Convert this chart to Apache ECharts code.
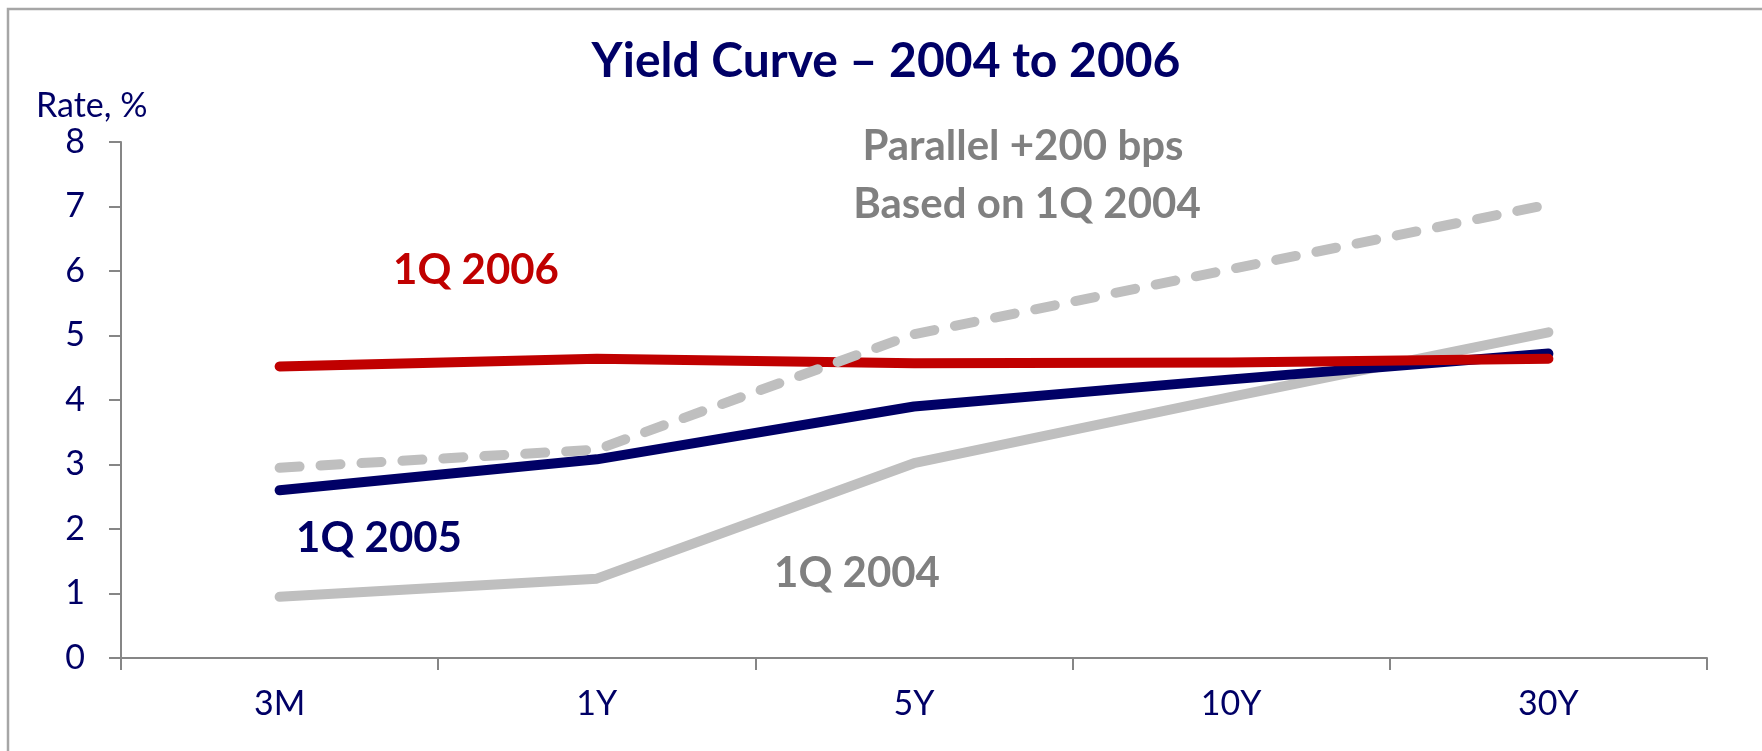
<!DOCTYPE html>
<html>
<head>
<meta charset="utf-8">
<script src="https://cdn.jsdelivr.net/npm/echarts@6/dist/echarts.min.js"></script>
<style>
  html, body { margin: 0; padding: 0; background: #fff; }
  #chart { width: 1762px; height: 751px; }
</style>
</head>
<body>
<div id="chart"></div>
<script>
// maturities on the x axis
const maturities = ['3M', '1Y', '5Y', '10Y', '30Y']
// rates in %
const q1_2004 = [0.95, 1.23, 3.02, 4.05, 5.05]
const q1_2005 = [2.6, 3.08, 3.9, 4.32, 4.72]
const q1_2006 = [4.52, 4.64, 4.57, 4.58, 4.64]
const parallel200 = [2.95, 3.23, 5.02, 6.03, 7.03]
const yTicks = [0, 1, 2, 3, 4, 5, 6, 7, 8]

const navy = '#000066'
const red = '#C00000'
const lightGray = '#BFBFBF'
const textGray = '#808080'
const axisGray = '#868686'
const font = 'Lato'

const chart = echarts.init(document.getElementById('chart'), null, { renderer: 'canvas' })

const lineStyle = (color, dashed) => ({
  color: color,
  width: 10,
  cap: 'round',
  join: 'round',
  type: dashed ? [20, 21] : 'solid'
})

const option = {
  animation: false,
  backgroundColor: '#fff',
  grid: {
    left: 121,
    right: 55,
    top: 142,
    bottom: 93
  },
  xAxis: {
    type: 'category',
    data: maturities,
    boundaryGap: true,
    axisLine: { lineStyle: { color: axisGray, width: 2 } },
    axisTick: { show: true, length: 12, inside: false, lineStyle: { color: axisGray, width: 2 } },
    axisLabel: { color: navy, fontFamily: font, fontSize: 34, margin: 29 },
    splitLine: { show: false }
  },
  yAxis: {
    type: 'value',
    min: yTicks[0],
    max: yTicks[yTicks.length - 1],
    interval: 1,
    axisLine: { show: true, lineStyle: { color: axisGray, width: 2 } },
    axisTick: { show: true, length: 12, inside: false, lineStyle: { color: axisGray, width: 2 } },
    axisLabel: { color: navy, fontFamily: font, fontSize: 34, margin: 36 },
    splitLine: { show: false }
  },
  series: [
    { name: '1Q 2004', type: 'line', data: q1_2004, symbol: 'none', z: 2, lineStyle: lineStyle(lightGray, false) },
    { name: '1Q 2005', type: 'line', data: q1_2005, symbol: 'none', z: 3, lineStyle: lineStyle(navy, false) },
    { name: '1Q 2006', type: 'line', data: q1_2006, symbol: 'none', z: 4, lineStyle: lineStyle(red, false) },
    { name: 'Parallel +200 bps', type: 'line', data: parallel200, symbol: 'none', z: 5, lineStyle: lineStyle(lightGray, true) }
  ],
  graphic: [
    {
      type: 'rect', silent: true, z: -1,
      shape: { x: 8, y: 9, width: 1900, height: 900 },
      style: { fill: 'none', stroke: '#A6A6A6', lineWidth: 2.5 }
    },
    {
      type: 'text', x: 886, y: 62,
      style: { text: 'Yield Curve – 2004 to 2006', fill: navy, font: 'bold 48px Lato', textAlign: 'center', textVerticalAlign: 'middle' }
    },
    {
      type: 'text', x: 36, y: 106,
      style: { text: 'Rate, %', fill: navy, font: '34px Lato', textAlign: 'left', textVerticalAlign: 'middle' }
    },
    {
      type: 'text', x: 476, y: 270,
      style: { text: '1Q 2006', fill: red, font: 'bold 42px Lato', textAlign: 'center', textVerticalAlign: 'middle' }
    },
    {
      type: 'text', x: 379, y: 538,
      style: { text: '1Q 2005', fill: navy, font: 'bold 42px Lato', textAlign: 'center', textVerticalAlign: 'middle' }
    },
    {
      type: 'text', x: 857, y: 573,
      style: { text: '1Q 2004', fill: textGray, font: 'bold 42px Lato', textAlign: 'center', textVerticalAlign: 'middle' }
    },
    {
      type: 'text', x: 1023, y: 146,
      style: { text: 'Parallel +200 bps', fill: textGray, font: 'bold 42px Lato', textAlign: 'center', textVerticalAlign: 'middle' }
    },
    {
      type: 'text', x: 1027, y: 204,
      style: { text: 'Based on 1Q 2004', fill: textGray, font: 'bold 42px Lato', textAlign: 'center', textVerticalAlign: 'middle' }
    }
  ]
}

chart.setOption(option)
window.addEventListener('resize', () => chart.resize())
</script>
</body>
</html>
